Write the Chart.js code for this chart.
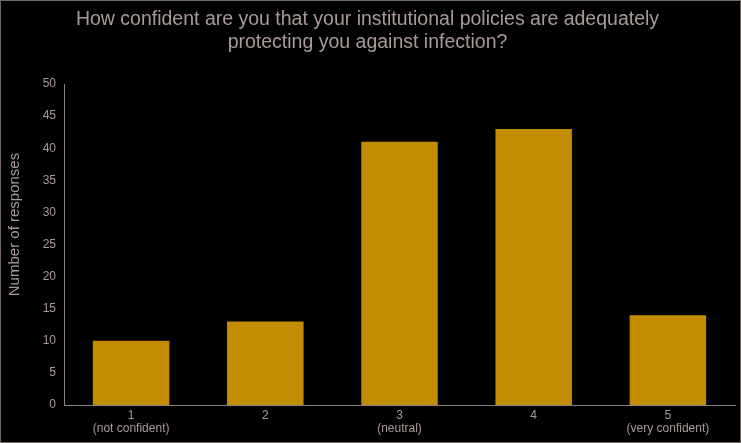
<!DOCTYPE html>
<html>
<head>
<meta charset="utf-8">
<script src="https://cdn.jsdelivr.net/npm/chart.js@4"></script>
<style>
  html, body { margin: 0; padding: 0; background: #000; }
  #wrap { width: 741px; height: 443px; }
</style>
</head>
<body>
<div id="wrap"><canvas id="confChart" width="741" height="443"></canvas></div>
<script>
const categories = [['1', '(not confident)'], '2', ['3', '(neutral)'], '4', ['5', '(very confident)']];
const responses = [10, 13, 41, 43, 14];
const yTicks = [0, 5, 10, 15, 20, 25, 30, 35, 40, 45, 50];
const yTitle = 'Number of responses';

const textColor = '#a89a98';
const axisColor = '#8a8280';
const barColor = '#c48c00';
const fontFamily = "'Liberation Sans Narrow', 'Liberation Sans', Arial, sans-serif";

// black backdrop, thin frame, and the y-axis caption (sits a bit above centre in the original)
const framePlugin = {
    id: 'frame',
    beforeDraw(chart) {
        const c = chart.ctx;
        c.save();
        c.fillStyle = '#000';
        c.fillRect(0, 0, chart.width, chart.height);
        c.restore();
    },
    afterDraw(chart) {
        const c = chart.ctx;
        c.save();
        c.strokeStyle = '#6e6866';
        c.lineWidth = 1;
        c.strokeRect(0.5, 0.5, chart.width - 1, chart.height - 1);

        const area = chart.chartArea;
        c.translate(15, (area.top + area.bottom) / 2 - 20);
        c.rotate(-Math.PI / 2);
        c.fillStyle = textColor;
        c.font = '15px ' + fontFamily;
        c.textAlign = 'center';
        c.textBaseline = 'middle';
        c.fillText(yTitle, 0, 0);
        c.restore();
    }
};

new Chart(document.getElementById('confChart'), {
    type: 'bar',
    data: {
        labels: categories,
        datasets: [{
            data: responses,
            backgroundColor: barColor,
            borderWidth: 0,
            barPercentage: 0.57,
            categoryPercentage: 1.0
        }]
    },
    options: {
        responsive: false,
        animation: false,
        layout: { padding: { top: 0, right: 6, bottom: 0, left: 0 } },
        scales: {
            x: {
                grid: { display: false, drawTicks: false },
                border: { display: true, color: axisColor, width: 1 },
                ticks: {
                    color: textColor,
                    font: { family: fontFamily, size: 12, lineHeight: 1.1 },
                    padding: 4,
                    maxRotation: 0
                },
                afterFit(scale) { scale.height = 38; }
            },
            y: {
                min: 0,
                max: 50,
                afterBuildTicks(scale) { scale.ticks = yTicks.map(v => ({ value: v })); },
                grid: { display: false, drawTicks: false },
                border: { display: true, color: axisColor, width: 1 },
                ticks: {
                    color: textColor,
                    font: { family: fontFamily, size: 12 },
                    padding: 8
                },
                afterFit(scale) { scale.width = 64; }
            }
        },
        plugins: {
            legend: { display: false },
            tooltip: { enabled: false },
            title: {
                display: true,
                text: ['How confident are you that your institutional policies are adequately', 'protecting you against infection?'],
                color: textColor,
                font: { family: fontFamily, size: 19.5, weight: 'normal', lineHeight: 1.18 },
                padding: { top: 8, bottom: 30 }
            }
        }
    },
    plugins: [framePlugin]
});
</script>
</body>
</html>
